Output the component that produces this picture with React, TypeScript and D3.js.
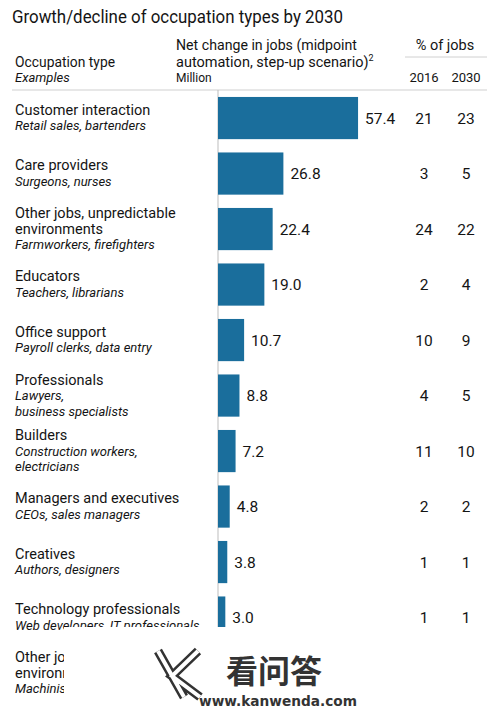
import React from "react";
import * as d3 from "d3";

const categories = [
  "Customer interaction",
  "Care providers",
  "Other jobs, unpredictable environments",
  "Educators",
  "Office support",
  "Professionals",
  "Builders",
  "Managers and executives",
  "Creatives",
  "Technology professionals",
  "Other jobs, predictable environments",
];
const nameLines = [
  ["Customer interaction"],
  ["Care providers"],
  ["Other jobs, unpredictable", "environments"],
  ["Educators"],
  ["Office support"],
  ["Professionals"],
  ["Builders"],
  ["Managers and executives"],
  ["Creatives"],
  ["Technology professionals"],
  ["Other jobs, predictable", "environments"],
];
const exampleLines = [
  ["Retail sales, bartenders"],
  ["Surgeons, nurses"],
  ["Farmworkers, firefighters"],
  ["Teachers, librarians"],
  ["Payroll clerks, data entry"],
  ["Lawyers,", "business specialists"],
  ["Construction workers,", "electricians"],
  ["CEOs, sales managers"],
  ["Authors, designers"],
  ["Web developers, IT professionals"],
  ["Machinists, food workers"],
];
const netChange: (number | null)[] = [57.4, 26.8, 22.4, 19.0, 10.7, 8.8, 7.2, 4.8, 3.8, 3.0, null];
const share2016: (number | null)[] = [21, 3, 24, 2, 10, 4, 11, 2, 1, 1, null];
const share2030: (number | null)[] = [23, 5, 22, 4, 9, 5, 10, 2, 1, 1, null];
const xDomain = [0, 60];

const FONT = "Roboto, 'Liberation Sans', Arial, sans-serif";
const TXT = "#141414";
const BAR = "#1a6e9c";

export default function App() {
  const W = 500, H = 710;
  const y = d3.scaleBand<string>().domain(categories).range([90.3, 700.8]).paddingInner(0.24).paddingOuter(0.12);
  const x = d3.scaleLinear().domain(xDomain).range([218, 364.4]);
  const lh = 15.5;
  const col2016 = 424, col2030 = 466;

  return (
    <svg width={W} height={H} style={{ position: "absolute", left: 0, top: 0, background: "#fff" }} fontFamily={FONT}>
      <rect x={0} y={0} width={W} height={H} fill="#fff" />
      <text x={12} y={23} fontSize={18.5} fill={TXT} textLength={331} lengthAdjust="spacingAndGlyphs">Growth/decline of occupation types by 2030</text>

      <text x={15} y={67} fontSize={14.5} fill={TXT} textLength={100} lengthAdjust="spacingAndGlyphs">Occupation type</text>
      <text x={15} y={82} fontSize={13} fontStyle="italic" fill={TXT}>Examples</text>
      <text x={176} y={50} fontSize={14.5} fill={TXT} textLength={181} lengthAdjust="spacingAndGlyphs">Net change in jobs (midpoint</text>
      <text x={176} y={67} fontSize={14.5} fill={TXT}>
        automation, step-up scenario)<tspan fontSize={9} dy={-6}>2</tspan>
      </text>
      <text x={176} y={82} fontSize={12} fill={TXT}>Million</text>
      <text x={445} y={50} fontSize={14.5} textAnchor="middle" fill={TXT}>% of jobs</text>
      <line x1={405} x2={487} y1={57} y2={57} stroke="#d0d0d0" strokeWidth={1} />
      <text x={col2016} y={82} fontSize={13} textAnchor="middle" fill={TXT}>2016</text>
      <text x={col2030} y={82} fontSize={13} textAnchor="middle" fill={TXT}>2030</text>
      <line x1={12} x2={487} y1={90} y2={90} stroke="#cfcfcf" strokeWidth={1} />

      <line x1={x(0)} x2={x(0)} y1={90} y2={700} stroke="#bdbdbd" strokeWidth={1} />

      {categories.map((c, i) => {
        const top = y(c)!;
        const cy = top + y.bandwidth() / 2;
        const lines = [
          ...nameLines[i].map((t) => ({ t, it: false })),
          ...exampleLines[i].map((t) => ({ t, it: true })),
        ];
        const first = cy + 4.5 - ((lines.length - 1) * lh) / 2;
        const v = netChange[i];
        return (
          <g key={c}>
            {lines.map((l, j) => (
              <text key={j} x={15} y={first + j * lh} fontSize={l.it ? 13 : 14.5} fontStyle={l.it ? "italic" : "normal"} fill={TXT}>
                {l.t}
              </text>
            ))}
            {v !== null && (
              <>
                <rect x={x(0)} y={top} width={x(v) - x(0)} height={y.bandwidth()} fill={BAR} />
                <text x={x(v) + 7} y={cy + 5.5} fontSize={15.5} fill={TXT}>{v.toFixed(1)}</text>
              </>
            )}
            {share2016[i] !== null && (
              <text x={col2016} y={cy + 5.5} fontSize={15.5} textAnchor="middle" fill={TXT}>{share2016[i]}</text>
            )}
            {share2030[i] !== null && (
              <text x={col2030} y={cy + 5.5} fontSize={15.5} textAnchor="middle" fill={TXT}>{share2030[i]}</text>
            )}
          </g>
        );
      })}

      {/* watermark overlay */}
      <rect x={64} y={627} width={436} height={83} fill="#fff" />
      <g fill="none" strokeLinejoin="miter">
        <path d="M158,651 L184,697 M198,651 L172,676 L200,697" stroke="#333" strokeWidth={9} />
        <path d="M158,651 L184,697 M198,651 L172,676 L200,697" stroke="#fff" strokeWidth={4} />
      </g>
      <text x={226} y={683} fontSize={32} fontWeight="bold" fill="#333" fontFamily="'Noto Sans CJK SC', sans-serif">看问答</text>
      <text x={199} y={706} fontSize={14} fontWeight="bold" fill="#333" textLength={158} lengthAdjust="spacingAndGlyphs" fontFamily="'DejaVu Sans', Arial, sans-serif">www.kanwenda.com</text>
    </svg>
  );
}
